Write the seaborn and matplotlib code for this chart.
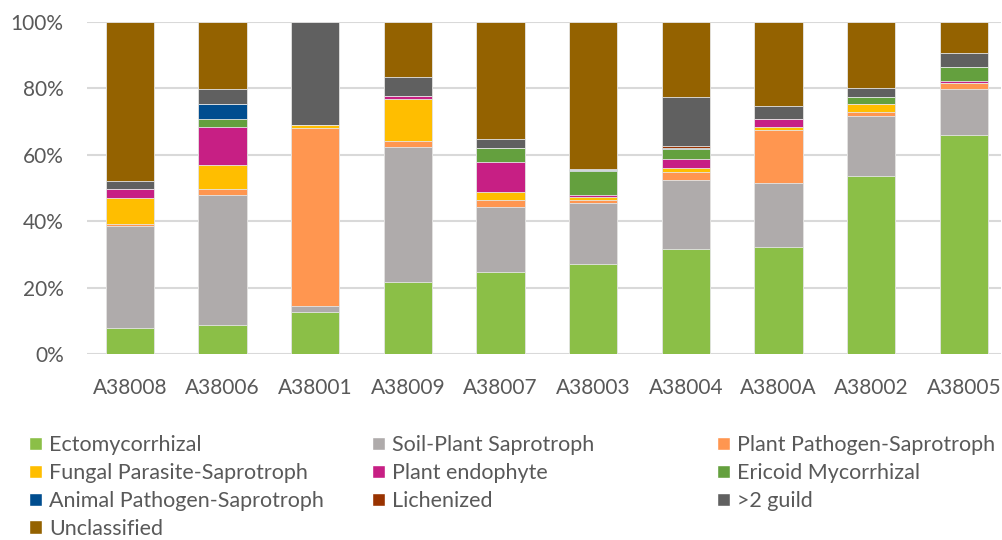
import numpy as np
import pandas as pd
import matplotlib
matplotlib.use("Agg")
import matplotlib.pyplot as plt
import seaborn as sns
from matplotlib.patches import Patch
from matplotlib.ticker import PercentFormatter

samples = ["A38008", "A38006", "A38001", "A38009", "A38007",
           "A38003", "A38004", "A3800A", "A38002", "A38005"]

guilds = ["Ectomycorrhizal", "Soil-Plant Saprotroph", "Plant Pathogen-Saprotroph",
          "Fungal Parasite-Saprotroph", "Plant endophyte", "Ericoid Mycorrhizal",
          "Animal Pathogen-Saprotroph", "Lichenized", ">2 guild", "Unclassified"]

ectomycorrhizal = [7.8, 8.8, 12.6, 21.8, 24.8, 27.0, 31.6, 32.1, 53.6, 65.8]
soil_plant_sap = [30.8, 39.1, 2.0, 40.4, 19.6, 18.4, 20.8, 19.3, 18.0, 13.8]
plant_path_sap = [0.5, 1.8, 53.3, 1.8, 2.0, 1.0, 2.4, 16.0, 1.2, 2.0]
fungal_par_sap = [8.0, 7.1, 1.0, 12.7, 2.4, 1.0, 1.2, 1.0, 2.5, 0.0]
plant_endophyte = [2.5, 11.4, 0.0, 1.0, 8.9, 0.5, 2.6, 2.3, 0.0, 0.6]
ericoid = [0.0, 2.4, 0.0, 0.0, 4.2, 7.1, 3.1, 0.0, 2.1, 4.1]
animal_path_sap = [0.0, 4.6, 0.0, 0.0, 0.1, 0.4, 0.4, 0.0, 0.0, 0.0]
lichenized = [0.0, 0.0, 0.0, 0.0, 0.0, 0.0, 0.6, 0.0, 0.0, 0.0]
multi_guild = [2.6, 4.4, 31.1, 5.6, 2.8, 0.4, 14.5, 4.0, 2.7, 4.2]
unclassified = [47.8, 20.4, 0.0, 16.7, 35.2, 44.2, 22.8, 25.3, 19.9, 9.5]

colors = ["#8BBF47", "#AFABAB", "#FF9650", "#FFBE00", "#C71F84",
          "#64A03E", "#004D8F", "#993300", "#606060", "#946200"]

series = [ectomycorrhizal, soil_plant_sap, plant_path_sap, fungal_par_sap,
          plant_endophyte, ericoid, animal_path_sap, lichenized, multi_guild,
          unclassified]

df = pd.DataFrame(dict(zip(guilds, series)), index=samples)
cum = df.cumsum(axis=1)

sns.set_style("white")
plt.rcParams["font.family"] = ["Lato", "DejaVu Sans"]
txt_color = "#595959"

fig = plt.figure(figsize=(10.03, 5.4), dpi=100)
ax = fig.add_axes([0.087, 0.344, 0.911, 0.616])

# stacked bars: draw cumulative totals from the top guild down
for g, c in reversed(list(zip(guilds, colors))):
    sns.barplot(x=samples, y=cum[g].values, color=c, width=0.52,
                saturation=1, edgecolor="#E6E6E6", linewidth=0.6, ax=ax)

ax.set_ylim(0, 100)
ax.set_xlim(-0.46, 9.40)
ax.set_yticks(np.arange(0, 101, 20))
ax.yaxis.set_major_formatter(PercentFormatter(decimals=0))
ax.grid(axis="y", color="#D9D9D9", linewidth=1.5)
ax.set_axisbelow(True)
for s in ax.spines.values():
    s.set_visible(False)
ax.tick_params(axis="both", length=0, labelsize=15, colors=txt_color)
ax.tick_params(axis="x", pad=17)
ax.tick_params(axis="y", pad=17)

# legend in three columns, filled row by row
handles = [Patch(facecolor=c, label=g) for g, c in zip(guilds, colors)]
col_x = [29, 372, 717]
for k, x0 in enumerate(col_x):
    idx = list(range(k, len(guilds), 3))
    fig.legend([handles[i] for i in idx], [guilds[i] for i in idx],
               loc="upper left", bbox_to_anchor=(x0 / 1003, 1 - 435 / 540),
               frameon=False, fontsize=15.5, handlelength=0.6, handleheight=0.6,
               handletextpad=0.33, labelspacing=0.37, borderpad=0,
               borderaxespad=0, labelcolor=txt_color)

fig.savefig("out.png", dpi=100)
